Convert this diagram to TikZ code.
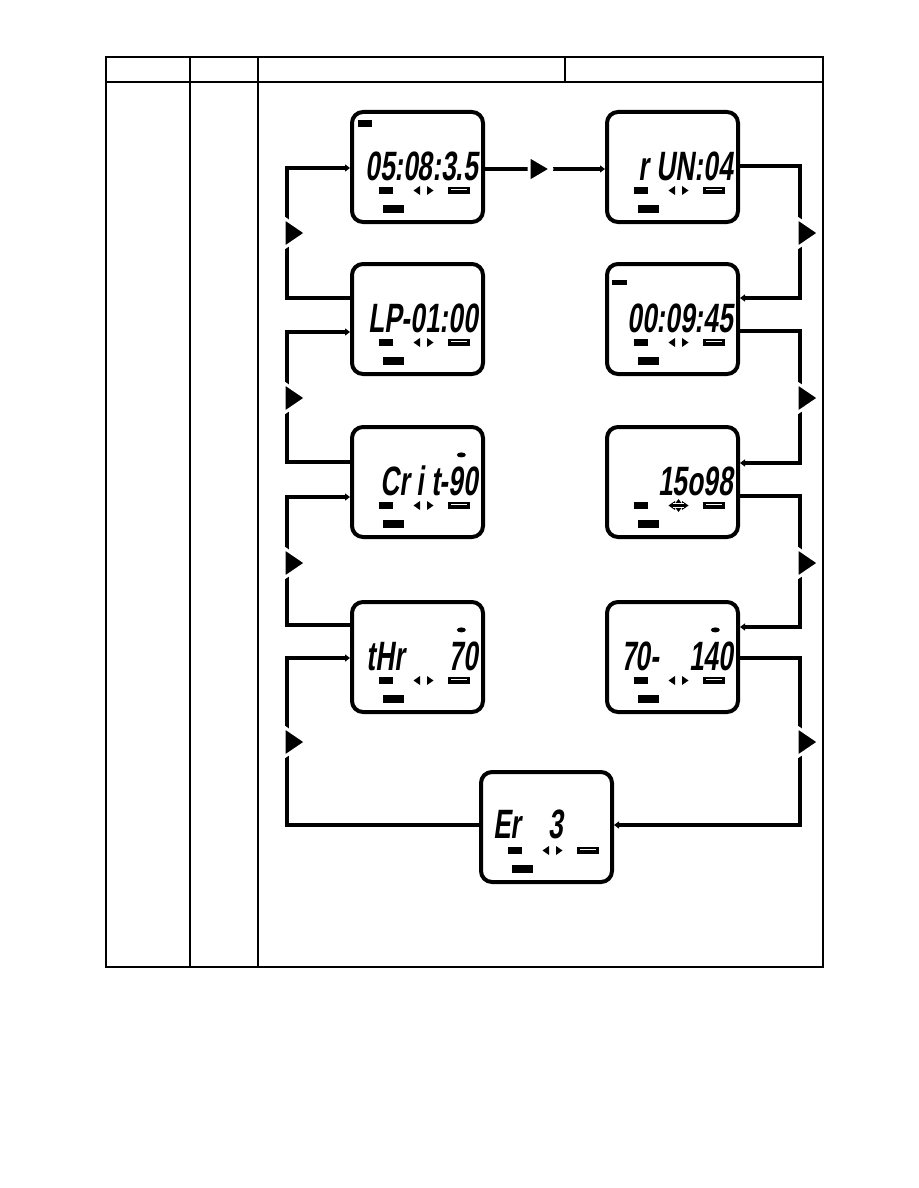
\documentclass[tikz,border=0pt]{standalone}
\usepackage{fontspec}
\setmainfont{Liberation Sans}
\newfontfamily\lcdfont[FakeStretch=0.64,FakeSlant=0.14]{Liberation Sans Bold}
\usetikzlibrary{arrows.meta,shapes.geometric,calc}
\tikzset{
 frame/.style={line width=1.8pt},
 screen/.style={draw, line width=4pt, rounded corners=11pt, minimum width=131pt, minimum height=110pt, inner sep=0pt},
 lbl/.style={fill=black, inner sep=0pt, minimum width=14pt, minimum height=7pt, anchor=north west},
 lbltwo/.style={fill=black, inner sep=0pt, minimum width=21pt, minimum height=8pt, anchor=north west},
 batt/.style={fill=black, inner sep=0pt, minimum width=22pt, minimum height=7pt, anchor=north west},
 icon/.style={fill=black, inner sep=0pt, anchor=north west},
 digits/.style={font=\lcdfont\fontsize{41}{41}\selectfont, inner sep=0pt},
 conn/.style={line width=3.5pt},
 tip/.style={-{Triangle[length=5pt,width=7pt]}},
 markerpath/.style={fill=black, draw=white, line width=3pt, line join=miter},
}
\newcommand\bigmarker[3]{% coordinate, width, half-height
 \filldraw[markerpath] ([shift={(-3,-#3)}]#1) -- ([shift={(#2-3,0)}]#1) -- ([shift={(-3,#3)}]#1) -- cycle;
}
\newcommand\lcdbox[3]{%
 \node[screen, anchor=north west] (#1) at (#2,#3) {};
 \node[lbl] (#1-l1) at ([shift={(29,77)}]#1.north west) {};
 \coordinate (#1-al) at ([shift={(67,80.5)}]#1.north west);
 \coordinate (#1-ar) at ([shift={(80,80.5)}]#1.north west);
 \fill ([shift={(-3.5,0)}]#1-al) -- ([shift={(3,-4.5)}]#1-al) -- ([shift={(3,4.5)}]#1-al) -- cycle;
 \fill ([shift={(3.5,0)}]#1-ar) -- ([shift={(-3,-4.5)}]#1-ar) -- ([shift={(-3,4.5)}]#1-ar) -- cycle;
 \node[batt] (#1-b) at ([shift={(98,77)}]#1.north west) {};
 \draw[white, line width=0.5pt] ([xshift=3pt,yshift=1.2pt]#1-b.west) -- ([xshift=-3pt,yshift=1.2pt]#1-b.east);
 \node[lbltwo] (#1-l2) at ([shift={(33,95)}]#1.north west) {};
}
\begin{document}
\begin{tikzpicture}[x=1pt,y=-1pt]
\useasboundingbox (0,0) rectangle (918,1188);
% table
\draw[frame] (106,57) rectangle (823,967);
\draw[frame] (106,82) -- (823,82);
\draw[frame] (190,57) -- (190,967);
\draw[frame] (258,57) -- (258,967);
\draw[line width=1.3pt] (565,57) -- (565,82);
% screens
\lcdbox{s1}{350}{110}
\lcdbox{s2}{605}{110}
\lcdbox{s3}{350}{262}
\lcdbox{s4}{605}{262}
\lcdbox{s5}{350}{425}
\lcdbox{s6}{605}{425}
\lcdbox{s7}{350}{600}
\lcdbox{s8}{605}{600}
\lcdbox{s9}{479}{770}
% digits
\node[digits, anchor=base east] (d1) at ([shift={(128,70)}]s1.north west) {05:08:3.5};
\node[digits, anchor=base east] (d2) at ([shift={(128,70)}]s2.north west) {r\hspace{8pt}UN:04};
\node[digits, anchor=base east] (d3) at ([shift={(128,70)}]s3.north west) {LP-01:00};
\node[digits, anchor=base east] (d4) at ([shift={(128,70)}]s4.north west) {00:09:45};
\node[digits, anchor=base east] (d5) at ([shift={(128,70)}]s5.north west) {Cr i t-90};
\node[digits, anchor=base east] (d6) at ([shift={(128,70)}]s6.north west) {15o98};
\node[digits, anchor=base east] (d7) at ([shift={(128,70)}]s7.north west) {tHr\hspace{44pt}70};
\node[digits, anchor=base east] (d8) at ([shift={(128,70)}]s8.north west) {70-\hspace{30pt}140};
\node[digits, anchor=base west] (d9) at ([shift={(14,68)}]s9.north west) {Er\hspace{28pt}3};
% small icons
\node[icon, minimum width=14pt, minimum height=7pt] (i1) at ([shift={(8,10)}]s1.north west) {};
\node[icon, minimum width=15pt, minimum height=5pt] (i4) at ([shift={(7,18)}]s4.north west) {};
\node[icon, ellipse, minimum width=9pt, minimum height=5pt] (i5) at ([shift={(108,28)}]s5.north west) {};
\node[icon, ellipse, minimum width=9pt, minimum height=5pt] (i7) at ([shift={(108,28)}]s7.north west) {};
\node[icon, ellipse, minimum width=9pt, minimum height=5pt] (i8) at ([shift={(107,28)}]s8.north west) {};
\node[diamond, fill=black, inner sep=0pt, minimum width=10pt, minimum height=13pt] (i6) at ([shift={(73.5,80.5)}]s6.north west) {};
\draw[white, line width=0.8pt] ([yshift=2pt]i6.west) -- ([yshift=2pt]i6.east) ([yshift=-2pt]i6.west) -- ([yshift=-2pt]i6.east);
% connector coordinates
\coordinate (cL1) at (287,233);
\coordinate (cL2) at (287,398);
\coordinate (cL3) at (287,563);
\coordinate (cL4) at (287,742);
\coordinate (cR1) at (800,233);
\coordinate (cR2) at (800,398);
\coordinate (cR3) at (800,563);
\coordinate (cR4) at (800,742);
\coordinate (cM) at (532,169);
\coordinate (cM2) at (553,169);
% top connector
\draw[conn] ([yshift=-59pt]s1.north east) -- (cM);
\draw[conn,tip] (cM2) -- ([yshift=-59pt]s2.north west);
\bigmarker{cM}{22}{13}
% right side (downward)
\draw[conn,tip] ([yshift=-56pt]s2.north east) -| (cR1) |- ([yshift=-36pt]s4.north east);
\draw[conn,tip] ([yshift=-69pt]s4.north east) -| (cR2) |- ([yshift=-38pt]s6.north east);
\draw[conn,tip] ([yshift=-71pt]s6.north east) -| (cR3) |- ([yshift=-27pt]s8.north east);
\draw[conn,tip] ([yshift=-58pt]s8.north east) -| (cR4) |- ([yshift=-55pt]s9.north east);
% left side (upward)
\draw[conn,tip] ([yshift=-55pt]s9.north west) -| (cL4) |- ([yshift=-58pt]s7.north west);
\draw[conn,tip] ([yshift=-25pt]s7.north west) -| (cL3) |- ([yshift=-72pt]s5.north west);
\draw[conn,tip] ([yshift=-37pt]s5.north west) -| (cL2) |- ([yshift=-70pt]s3.north west);
\draw[conn,tip] ([yshift=-36pt]s3.north west) -| (cL1) |- ([yshift=-58pt]s1.north west);
% markers
\bigmarker{cL1}{22}{15}
\bigmarker{cL2}{22}{15}
\bigmarker{cL3}{22}{15}
\bigmarker{cL4}{22}{15}
\bigmarker{cR1}{22}{15}
\bigmarker{cR2}{22}{15}
\bigmarker{cR3}{22}{15}
\bigmarker{cR4}{22}{15}
\end{tikzpicture}
\end{document}
